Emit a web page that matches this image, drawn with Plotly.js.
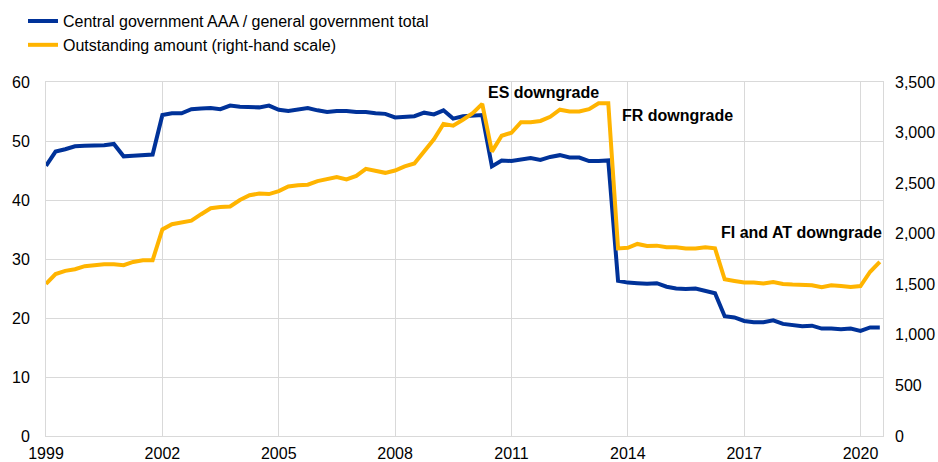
<!DOCTYPE html>
<html>
<head>
<meta charset="utf-8">
<script src="https://cdn.plot.ly/plotly-3.0.1.min.js"></script>
<style>html,body{margin:0;padding:0;background:#fff;}#chart{width:938px;height:462px;}</style>
</head>
<body>
<div id="chart"></div>
<script>
// Quarterly observations, 1999 Q1 – 2020 Q3
var startYear = 1999;
var nObs = 87;

// Central government AAA / general government total (%), left-hand scale
var shareAAA = [
  45.8, 48.2, 48.6, 49.1, 49.2, 49.2, 49.3, 49.5, 47.4, 47.5, 47.6, 47.7,
  54.4, 54.7, 54.7, 55.4, 55.5, 55.6, 55.4, 56.0, 55.8, 55.7, 55.7, 56.0,
  55.3, 55.1, 55.3, 55.6, 55.2, 54.9, 55.1, 55.1, 54.9, 54.9, 54.7, 54.6,
  54.0, 54.1, 54.2, 54.8, 54.5, 55.2, 53.8, 54.2, 54.3, 54.4, 45.7, 46.7,
  46.6, 46.9, 47.1, 46.8, 47.3, 47.6, 47.2, 47.2, 46.6, 46.6, 46.7, 26.3,
  26.0, 25.9, 25.8, 25.9, 25.3, 25.0, 24.9, 25.0, 24.6, 24.2, 20.3, 20.1,
  19.5, 19.3, 19.3, 19.6, 19.0, 18.8, 18.6, 18.7, 18.2, 18.2, 18.1, 18.2,
  17.8, 18.4, 18.4
];

// Outstanding amount (EUR billions), right-hand scale
var outstanding = [
  1503, 1601, 1633, 1649, 1679, 1689, 1697, 1697, 1689, 1721, 1738, 1738,
  2042, 2094, 2112, 2129, 2193, 2252, 2263, 2269, 2333, 2380, 2397, 2392,
  2421, 2467, 2479, 2485, 2520, 2537, 2561, 2537, 2572, 2642, 2625, 2602,
  2625, 2666, 2695, 2812, 2934, 3086, 3068, 3127, 3191, 3284, 2812, 2969,
  2998, 3103, 3103, 3115, 3156, 3226, 3208, 3208, 3232, 3290, 3290, 1855,
  1860, 1899, 1879, 1882, 1866, 1866, 1855, 1855, 1866, 1855, 1549, 1533,
  1517, 1517, 1508, 1523, 1503, 1497, 1494, 1491, 1470, 1491, 1482, 1473,
  1482, 1624, 1722
];

var seriesNames = [
  "Central government AAA / general government total",
  "Outstanding amount (right-hand scale)"
];

var eventLabels = ["ES downgrade", "FR downgrade", "FI and AT downgrade"];
var eventDates = ["2011-10-30", "2015-04-15", "2018-06-28"];
var eventValues = [3401, 3169, 2015];

var leftTicks = [0, 10, 20, 30, 40, 50, 60];
var rightTicks = [0, 500, 1000, 1500, 2000, 2500, 3000, 3500];
var rightTickText = ["0", "500", "1,000", "1,500", "2,000", "2,500", "3,000", "3,500"];

function pad(n) { return (n < 10 ? "0" : "") + n; }
var dates = [];
for (var i = 0; i < nObs; i++) {
  var y = startYear + Math.floor(i / 4);
  var m = 1 + 3 * (i % 4);
  dates.push(y + "-" + pad(m) + "-01");
}

var blue = "#003299";
var yellow = "#FFB400";
var grid = "#d9d9d9";
var font = "Liberation Sans, Arial, sans-serif";
var fs = 16;

var traces = [
  {
    x: dates, y: shareAAA, type: "scatter", mode: "lines",
    name: seriesNames[0], yaxis: "y",
    line: {color: blue, width: 4}
  },
  {
    x: dates, y: outstanding, type: "scatter", mode: "lines",
    name: seriesNames[1], yaxis: "y2",
    line: {color: yellow, width: 4}
  }
];

var annotations = eventLabels.map(function (t, k) {
  return {
    text: "<b>" + t + "</b>", x: eventDates[k], y: eventValues[k],
    xref: "x", yref: "y2", showarrow: false,
    font: {family: font, size: fs, color: "#000"}
  };
});

var layout = {
  width: 938, height: 462,
  margin: {l: 46, r: 55, t: 82, b: 26, autoexpand: false},
  paper_bgcolor: "#fff", plot_bgcolor: "#fff",
  font: {family: font, size: fs, color: "#000"},
  showlegend: true,
  legend: {
    x: -0.0275, y: 1.22, xanchor: "left", yanchor: "top",
    orientation: "v", font: {family: font, size: fs, color: "#000"},
    bgcolor: "rgba(0,0,0,0)", itemwidth: 30, tracegroupgap: 0
  },
  xaxis: {
    type: "date",
    range: ["1999-01-01", "2020-07-31"],
    tick0: "1999-01-01", dtick: "M36", tickformat: "%Y",
    showgrid: true, gridcolor: grid, gridwidth: 1,
    showline: true, linecolor: grid, linewidth: 1, mirror: true,
    ticks: "", ticklabelstandoff: 3,
    zeroline: false,
    tickfont: {family: font, size: fs, color: "#000"}
  },
  yaxis: {
    range: [0, 60], tickvals: leftTicks,
    showgrid: true, gridcolor: grid, gridwidth: 1,
    showline: true, linecolor: grid, mirror: true,
    zeroline: false, ticks: "", ticklabelstandoff: 12,
    tickfont: {family: font, size: fs, color: "#000"}
  },
  yaxis2: {
    range: [0, 3500], tickvals: rightTicks, ticktext: rightTickText,
    overlaying: "y", side: "right",
    showgrid: false, zeroline: false, ticks: "", ticklabelstandoff: 11,
    tickfont: {family: font, size: fs, color: "#000"}
  },
  annotations: annotations
};

Plotly.newPlot("chart", traces, layout, {displayModeBar: false, staticPlot: true});
</script>
</body>
</html>
